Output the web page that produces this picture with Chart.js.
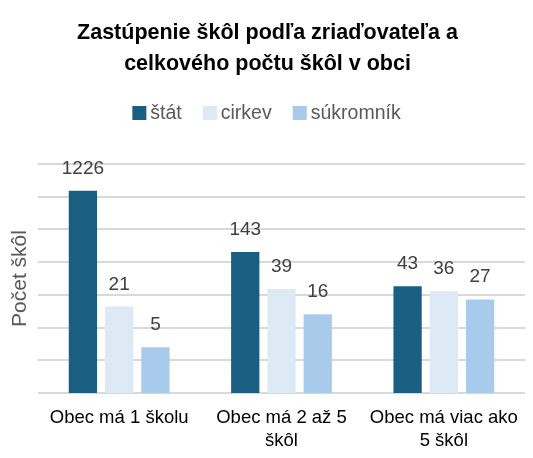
<!DOCTYPE html>
<html>
<head>
<meta charset="utf-8">
<script src="https://cdn.jsdelivr.net/npm/chart.js@4"></script>
<style>
  html, body { margin: 0; padding: 0; background: #fff; }
  #wrap { width: 533px; height: 458px; }
</style>
</head>
<body>
<div id="wrap"><canvas id="chart"></canvas></div>
<script>
const categories = [
  ["Obec má 1 školu"],
  ["Obec má 2 až 5", "škôl"],
  ["Obec má viac ako", "5 škôl"]
];
const seriesNames = ["štát", "cirkev", "súkromník"];
const statValues = [1226, 143, 43];
const cirkevValues = [21, 39, 36];
const sukromnikValues = [5, 16, 27];
const seriesColors = ["#1a5f82", "#dde9f5", "#a9cbeb"];
// log axis gridlines every half decade
const gridValues = [1, 3.1623, 10, 31.623, 100, 316.23, 1000, 3162.28];

const FONT = "'Liberation Sans', Arial, sans-serif";

// value labels above the bars + a compact legend (box close to its text)
const extras = {
  id: "extras",
  afterDatasetsDraw(chart) {
    const ctx = chart.ctx;
    ctx.save();
    ctx.font = "19px " + FONT;
    ctx.fillStyle = "#404040";
    ctx.textAlign = "center";
    ctx.textBaseline = "alphabetic";
    chart.data.datasets.forEach((ds, i) => {
      chart.getDatasetMeta(i).data.forEach((bar, j) => {
        ctx.fillText(ds.data[j], bar.x, bar.y - 17);
      });
    });

    // legend
    ctx.font = "19.5px " + FONT;
    ctx.textAlign = "left";
    ctx.textBaseline = "middle";
    const box = 14, gap = 4, spacing = 21, y = 113;
    const widths = chart.data.datasets.map(ds => box + gap + ctx.measureText(ds.label).width);
    const total = widths.reduce((a, b) => a + b, 0) + spacing * (widths.length - 1);
    let x = (chart.width - total) / 2;
    chart.data.datasets.forEach((ds, i) => {
      ctx.fillStyle = ds.backgroundColor;
      ctx.fillRect(x, y - box / 2, box, box);
      ctx.fillStyle = "#595959";
      ctx.fillText(ds.label, x + box + gap, y + 1);
      x += widths[i] + spacing;
    });
    ctx.restore();
  }
};

new Chart(document.getElementById("chart"), {
  type: "bar",
  data: {
    labels: categories,
    datasets: [
      { label: seriesNames[0], data: statValues, backgroundColor: seriesColors[0] },
      { label: seriesNames[1], data: cirkevValues, backgroundColor: seriesColors[1] },
      { label: seriesNames[2], data: sukromnikValues, backgroundColor: seriesColors[2] }
    ]
  },
  options: {
    responsive: true,
    maintainAspectRatio: false,
    animation: false,
    categoryPercentage: 0.67,
    barPercentage: 0.78,
    layout: { padding: { left: 10, right: 8, top: 18, bottom: 1 } },
    plugins: {
      tooltip: { enabled: false },
      legend: { display: false },
      title: {
        display: true,
        text: ["Zastúpenie škôl podľa zriaďovateľa a", "celkového počtu škôl v obci"],
        color: "#000",
        font: { family: FONT, size: 21.5, weight: "bold", lineHeight: 1.44 },
        padding: { top: 0, bottom: 84 }
      }
    },
    scales: {
      x: {
        grid: { display: false },
        border: { display: false },
        ticks: {
          color: "#000",
          font: { family: FONT, size: 18.5, lineHeight: 1.24 },
          padding: 5,
          maxRotation: 0,
          minRotation: 0,
          autoSkip: false
        }
      },
      y: {
        type: "logarithmic",
        min: 1,
        max: gridValues[gridValues.length - 1],
        afterBuildTicks(scale) {
          scale.ticks = gridValues.map(v => ({ value: v }));
        },
        ticks: { display: false },
        grid: { color: "#d9d9d9", lineWidth: 2, drawTicks: false },
        border: { display: false },
        title: {
          display: true,
          text: "Počet škôl",
          color: "#595959",
          font: { family: FONT, size: 21, lineHeight: 1.0 },
          padding: { top: 0, bottom: 7 }
        }
      }
    }
  },
  plugins: [extras]
});
</script>
</body>
</html>
